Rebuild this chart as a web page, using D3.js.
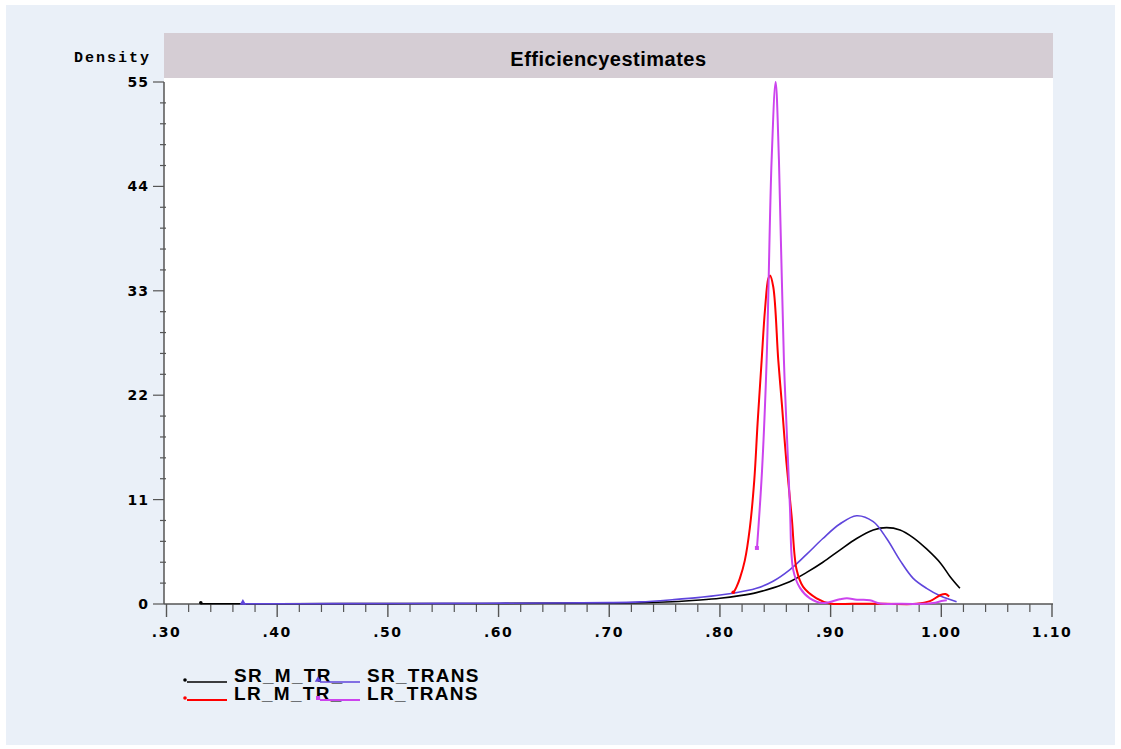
<!DOCTYPE html>
<html>
<head>
<meta charset="utf-8">
<script src="https://cdn.jsdelivr.net/npm/d3@7"></script>
<style>
  body { margin: 0; background: #ffffff; }
  svg { display: block; }
</style>
</head>
<body>
<div id="chart"></div>
<script>
// series values (efficiency, density)
const srMtrX = [0.331, 0.40, 0.50, 0.60, 0.68, 0.728, 0.757, 0.782, 0.80, 0.818, 0.833, 0.848, 0.863, 0.878, 0.893, 0.908, 0.9235, 0.9385, 0.9506, 0.9627, 0.9745, 0.9867, 0.9993, 1.0078, 1.0168];
const srMtrY = [0.02, 0.03, 0.04, 0.06, 0.1, 0.14, 0.24, 0.42, 0.6, 0.88, 1.2, 1.7, 2.35, 3.3, 4.4, 5.65, 6.9, 7.8, 8.05, 7.8, 7.0, 5.8, 4.3, 2.9, 1.65];

const srTransX = [0.369, 0.45, 0.55, 0.65, 0.70, 0.728, 0.757, 0.782, 0.812, 0.833, 0.848, 0.863, 0.878, 0.893, 0.908, 0.9235, 0.9385, 0.9506, 0.9627, 0.9746, 0.9867, 0.9993, 1.0138];
const srTransY = [0.02, 0.04, 0.07, 0.1, 0.14, 0.22, 0.45, 0.7, 1.13, 1.65, 2.4, 3.6, 5.2, 6.9, 8.4, 9.3, 8.67, 6.9, 4.6, 2.7, 1.65, 0.84, 0.24];

const lrMtrX = [0.812, 0.815, 0.818, 0.8225, 0.827, 0.831, 0.834, 0.8377, 0.8407, 0.8437, 0.8452, 0.8482, 0.8527, 0.856, 0.860, 0.8648, 0.8693, 0.8752, 0.8873, 0.8994, 0.92, 0.95, 0.9777, 0.9897, 0.9993, 1.0038, 1.0071];
const lrMtrY = [1.13, 1.8, 2.7, 4.6, 8, 13, 19, 25.7, 31, 34.3, 34.6, 33.4, 25.7, 21, 15, 9.2, 3.6, 1.8, 0.6, 0.05, 0.02, 0.02, 0.02, 0.3, 0.95, 1.05, 0.8];

const lrTransX = [0.8334, 0.838, 0.8422, 0.8467, 0.8503, 0.8533, 0.8578, 0.8632, 0.8662, 0.8723, 0.8813, 0.8933, 0.9083, 0.9147, 0.9238, 0.9355, 0.9446, 0.96, 0.9834, 0.9925, 1.0015, 1.005];
const lrTransY = [5.8, 14, 25.7, 46.8, 55.0, 46.8, 25.7, 10.3, 3.6, 1.7, 0.6, 0.1, 0.5, 0.6, 0.45, 0.4, 0.05, 0.02, 0.02, 0.1, 0.35, 0.4];

const seriesNames = ["SR_M_TR_", "SR_TRANS", "LR_M_TR_", "LR_TRANS"];
const seriesColors = ["#000000", "#5f45dc", "#ff0000", "#cc44ee"];
const seriesMarkers = ["dot", "triangle", "dot", "square"];
const xTicks = [0.30, 0.40, 0.50, 0.60, 0.70, 0.80, 0.90, 1.00, 1.10];
const yTicks = [0, 11, 22, 33, 44, 55];
const titleText = "Efficiencyestimates";
const yLabel = "Density";

const width = 1121, height = 749;
const plot = { left: 164, right: 1053, top: 78, bottom: 604 };

const svg = d3.select("#chart")
    .append("svg")
    .attr("width", width)
    .attr("height", height);

svg.append("rect")
    .attr("x", 6).attr("y", 5)
    .attr("width", 1109).attr("height", 740)
    .attr("fill", "#eaf0f8");

// title strip
svg.append("rect")
    .attr("x", plot.left).attr("y", 33)
    .attr("width", plot.right - plot.left).attr("height", plot.top - 33)
    .attr("fill", "#d5cdd4");

svg.append("text")
    .attr("x", (plot.left + plot.right) / 2)
    .attr("y", 66)
    .attr("text-anchor", "middle")
    .style("font-family", "'Liberation Sans', Arial, sans-serif")
    .style("font-weight", "bold")
    .style("font-size", "20px")
    .style("letter-spacing", "0.5px")
    .text(titleText);

svg.append("rect")
    .attr("x", plot.left).attr("y", plot.top)
    .attr("width", plot.right - plot.left).attr("height", plot.bottom - plot.top)
    .attr("fill", "#ffffff");

const x = d3.scaleLinear().domain([0.30, 1.10]).range([166.5, 1052]);
const y = d3.scaleLinear().domain([0, 55]).range([604, 82]);

const axisColor = "#555555";
const tickFont = "'DejaVu Sans', Verdana, sans-serif";

// y axis
const yAxis = svg.append("g");
yAxis.append("line")
    .attr("x1", plot.left).attr("x2", plot.left)
    .attr("y1", y(55)).attr("y2", y(0))
    .attr("stroke", axisColor).attr("stroke-width", 1.5);
yAxis.selectAll(".minor")
    .data(d3.range(0, 55.01, 2.2).filter(v => !yTicks.some(t => Math.abs(t - v) < 1e-6)))
    .enter().append("line")
    .attr("x1", plot.left - 4).attr("x2", plot.left + 2)
    .attr("y1", d => y(d)).attr("y2", d => y(d))
    .attr("stroke", axisColor).attr("stroke-width", 1.2);
yAxis.selectAll(".major")
    .data(yTicks)
    .enter().append("line")
    .attr("x1", plot.left - 11).attr("x2", plot.left)
    .attr("y1", d => y(d)).attr("y2", d => y(d))
    .attr("stroke", axisColor).attr("stroke-width", 1.2);
yAxis.selectAll("text")
    .data(yTicks)
    .enter().append("text")
    .attr("x", 149)
    .attr("y", d => y(d))
    .attr("dy", "0.36em")
    .attr("text-anchor", "end")
    .style("font-family", tickFont)
    .style("font-weight", "bold")
    .style("font-size", "14px")
    .style("letter-spacing", "1px")
    .text(d => d);

svg.append("text")
    .attr("x", 151)
    .attr("y", 62)
    .attr("text-anchor", "end")
    .style("font-family", "'Liberation Mono', 'Courier New', monospace")
    .style("font-weight", "bold")
    .style("font-size", "15px")
    .style("letter-spacing", "2px")
    .text(yLabel);

// x axis
const xAxis = svg.append("g");
xAxis.append("line")
    .attr("x1", plot.left).attr("x2", plot.right)
    .attr("y1", plot.bottom).attr("y2", plot.bottom)
    .attr("stroke", axisColor).attr("stroke-width", 1.5);
xAxis.selectAll(".minor")
    .data(d3.range(0, 41).map(i => 0.30 + i * 0.02).filter(v => !xTicks.some(t => Math.abs(t - v) < 1e-6)))
    .enter().append("line")
    .attr("x1", d => x(d)).attr("x2", d => x(d))
    .attr("y1", plot.bottom).attr("y2", plot.bottom + 8)
    .attr("stroke", axisColor).attr("stroke-width", 1.2);
xAxis.selectAll(".major")
    .data(xTicks)
    .enter().append("line")
    .attr("x1", d => x(d)).attr("x2", d => x(d))
    .attr("y1", plot.bottom).attr("y2", plot.bottom + 13)
    .attr("stroke", axisColor).attr("stroke-width", 1.4);
xAxis.selectAll("text")
    .data(xTicks)
    .enter().append("text")
    .attr("x", d => x(d))
    .attr("y", 637)
    .attr("text-anchor", "middle")
    .style("font-family", tickFont)
    .style("font-weight", "bold")
    .style("font-size", "14px")
    .style("letter-spacing", "1.5px")
    .text(d => d < 1 ? d3.format(".2f")(d).slice(1) : d3.format(".2f")(d));

// curves
const series = [
  { xs: srMtrX, ys: srMtrY, w: 1.6 },
  { xs: srTransX, ys: srTransY, w: 1.6 },
  { xs: lrMtrX, ys: lrMtrY, w: 2 },
  { xs: lrTransX, ys: lrTransY, w: 2 }
].map((s, i) => ({
  name: seriesNames[i],
  color: seriesColors[i],
  marker: seriesMarkers[i],
  width: s.w,
  points: s.xs.map((v, j) => [v, s.ys[j]])
}));

const line = d3.line()
    .x(d => x(d[0]))
    .y(d => y(d[1]))
    .curve(d3.curveCatmullRom.alpha(0.5));

function drawMarker(g, type, cx, cy, color) {
  if (type === "dot") {
    g.append("circle").attr("cx", cx).attr("cy", cy).attr("r", 1.8).attr("fill", color);
  } else if (type === "triangle") {
    g.append("path")
        .attr("d", d3.symbol().type(d3.symbolTriangle).size(18)())
        .attr("transform", `translate(${cx},${cy})`)
        .attr("fill", color);
  } else {
    g.append("rect").attr("x", cx - 2).attr("y", cy - 2).attr("width", 4).attr("height", 4).attr("fill", color);
  }
}

const curves = svg.append("g");
series.forEach(s => {
  curves.append("path")
      .datum(s.points)
      .attr("fill", "none")
      .attr("stroke", s.color)
      .attr("stroke-width", s.width)
      .attr("stroke-linejoin", "round")
      .attr("d", line);
  const p0 = s.points[0];
  drawMarker(curves, s.marker, x(p0[0]), y(p0[1]) - 1, s.color);
});

// legend
const legendPos = [
  { lx: 187, tx: 234, y: 682 },
  { lx: 320, tx: 367, y: 682 },
  { lx: 187, tx: 234, y: 700 },
  { lx: 320, tx: 367, y: 700 }
];
const legend = svg.append("g");
series.forEach((s, i) => {
  const p = legendPos[i];
  legend.append("text")
      .attr("x", p.tx).attr("y", p.y)
      .style("font-family", "'Liberation Sans', Arial, sans-serif")
      .style("font-weight", "bold")
      .style("font-size", "19px")
      .style("letter-spacing", "1.3px")
      .text(s.name);
});
series.forEach((s, i) => {
  const p = legendPos[i];
  legend.append("line")
      .attr("x1", p.lx).attr("x2", p.lx + 40)
      .attr("y1", p.y).attr("y2", p.y)
      .attr("stroke", s.color).attr("stroke-width", s.width);
  drawMarker(legend, s.marker, p.lx - 2, p.y - 2, s.color);
});
</script>
</body>
</html>
